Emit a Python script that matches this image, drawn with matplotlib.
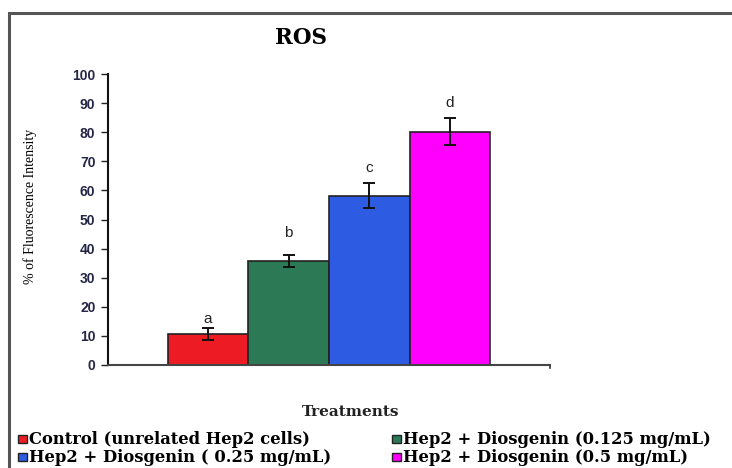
import matplotlib
matplotlib.use("Agg")
import matplotlib.pyplot as plt
from matplotlib.patches import Rectangle
import numpy as np

# Data
groups = ["Control (unrelated Hep2 cells)",
          "Hep2 + Diosgenin (0.125 mg/mL)",
          "Hep2 + Diosgenin ( 0.25 mg/mL)",
          "Hep2 + Diosgenin (0.5 mg/mL)"]
ros_mean = [10.7, 35.8, 58.1, 80.2]
ros_err = [2.0, 2.0, 4.3, 4.7]
sig_letters = ["a", "b", "c", "d"]
yticks = [0, 10, 20, 30, 40, 50, 60, 70, 80, 90, 100]

# Styling
colors = ["#ED1C24", "#2C7A55", "#2D5BE2", "#FF00FF"]
letter_pad = [3.1, 7.7, 5.3, 5.2]
W, H = 732, 468

fig = plt.figure(figsize=(W / 100, H / 100), dpi=100)
fig.patch.set_facecolor("white")

# outer chart frame (runs off the right and bottom edges)
fig.patches.append(Rectangle((8.5 / W, -0.1), 1.2, 1 - 12.5 / H + 0.1,
                             transform=fig.transFigure, fill=False,
                             edgecolor="#555555", linewidth=2.2))

ax = fig.add_axes([108 / W, 1 - 365 / H, (550 - 108) / W, (365 - 74) / H])
x = np.arange(len(ros_mean)) - (len(ros_mean) - 1) / 2
ax.bar(x, ros_mean, width=1.0, color=colors, edgecolor="#222222", linewidth=1.2, zorder=2)
ax.errorbar(x, ros_mean, yerr=ros_err, fmt="none", ecolor="#111111",
            elinewidth=1.4, capsize=4, capthick=1.4, zorder=3)
for xi, m, e, lt, p in zip(x, ros_mean, ros_err, sig_letters, letter_pad):
    ax.text(xi, m + e + p, lt, ha="center", va="center", fontsize=11,
            family="Liberation Sans", color="#222222")

ax.set_xlim(-2.74, 2.74)
ax.set_ylim(0, 100)
ax.set_yticks(yticks)
ax.set_yticklabels([str(t) for t in yticks], family="Liberation Sans",
                   fontweight="bold", fontsize=10, color="#252545")
ax.set_xticks([])
ax.tick_params(axis="y", length=5, width=1.0, pad=4, color="#222222")
for s in ["top", "right"]:
    ax.spines[s].set_visible(False)
ax.spines["left"].set_color("#111111")
ax.spines["left"].set_linewidth(1.5)
ax.spines["bottom"].set_color("#444444")
ax.spines["bottom"].set_linewidth(1.5)
ax.plot([1, 1], [0, -0.012], transform=ax.transAxes, color="#333333",
        lw=1.2, clip_on=False)

fig.text(301 / W, 1 - 38 / H, "ROS", ha="center", va="center",
         fontsize=15.5, fontweight="bold", family="DejaVu Serif")
fig.text(351 / W, 1 - 412 / H, "Treatments", ha="center", va="center",
         fontsize=11, fontweight="bold", family="DejaVu Serif", color="#222222")
fig.text(30 / W, 1 - 206 / H, "% of Fluorescence Intensity", ha="center",
         va="center", rotation=90, fontsize=10, family="Liberation Serif")

# legend: two columns of square keys
key_x = [18, 392, 18, 392]
key_y = [439, 439, 457, 457]
for lab, c, kx, ky in zip(groups, colors, key_x, key_y):
    fig.patches.append(Rectangle((kx / W, 1 - (ky + 4) / H), 9 / W, 8 / H,
                                 transform=fig.transFigure, facecolor=c,
                                 edgecolor="#222222", linewidth=1.0))
    fig.text((kx + 11) / W, 1 - ky / H, lab, ha="left", va="center",
             fontsize=11.8, fontweight="bold", family="DejaVu Serif")

fig.savefig("out.png", dpi=100)
